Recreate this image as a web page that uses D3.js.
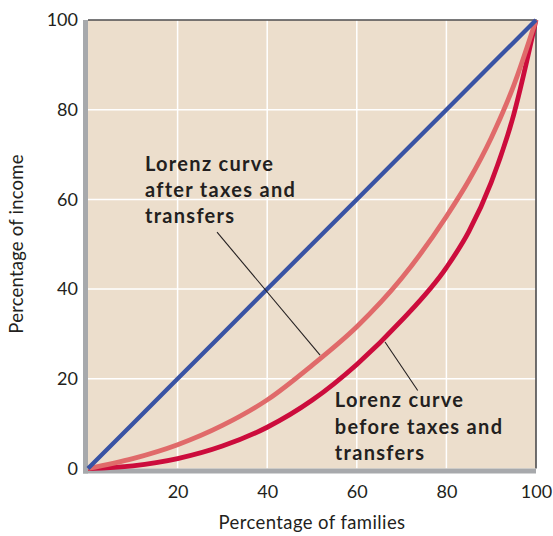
<!DOCTYPE html>
<html>
<head>
<meta charset="utf-8">
<script src="https://cdn.jsdelivr.net/npm/d3@7"></script>
<style>
  html, body { margin: 0; padding: 0; background: #ffffff; }
  svg { display: block; }
</style>
</head>
<body>
<svg id="chart" width="553" height="536"></svg>
<script>
// ---- data ----
const families = [0, 10, 20, 30, 40, 50, 60, 70, 80, 85, 90, 95, 100];
const equality = [0, 10, 20, 30, 40, 50, 60, 70, 80, 85, 90, 95, 100];
const afterTaxes = [0, 2.2, 5.3, 9.6, 15.3, 23.0, 31.6, 42.4, 56.2, 64.2, 73.7, 85.3, 100];
const beforeTaxes = [0, 0.6, 2.2, 5.0, 9.2, 15.2, 23.2, 33.0, 44.8, 52.8, 63.8, 78.8, 100];
const xTicks = [20, 40, 60, 80, 100];
const yTicks = [0, 20, 40, 60, 80, 100];
const gridValues = [20, 40, 60, 80];
const xTitle = "Percentage of families";
const yTitle = "Percentage of income";
const afterLabel = ["Lorenz curve", "after taxes and", "transfers"];
const beforeLabel = ["Lorenz curve", "before taxes and", "transfers"];
// annotation anchors in data units
const afterText = { x: 12.7, y: [66.4, 60.5, 54.7] };
const beforeText = { x: 55.1, y: [13.8, 7.8, 1.9] };
const afterPointer = [[28.8, 52.7], [51.8, 25.3]];
const beforePointer = [[66.3, 28.2], [73.6, 17.4]];

// ---- layout ----
const svg = d3.select("#chart");
const x = d3.scaleLinear().domain([0, 100]).range([88, 536]);
const y = d3.scaleLinear().domain([0, 100]).range([468.5, 20]);

const font = "Lato, 'Open Sans', sans-serif";
const ink = "#231f20";

// background
svg.append("rect")
  .attr("x", x(0)).attr("y", y(100))
  .attr("width", x(100) - x(0)).attr("height", y(0) - y(100))
  .attr("fill", "#ecdecc");

// grid
const grid = svg.append("g").attr("stroke", "#ffffff").attr("stroke-width", 1.5);
grid.selectAll("line.v").data(gridValues).join("line").attr("class", "v")
  .attr("x1", d => x(d)).attr("x2", d => x(d))
  .attr("y1", y(100)).attr("y2", y(0));
grid.selectAll("line.h").data(gridValues).join("line").attr("class", "h")
  .attr("y1", d => y(d)).attr("y2", d => y(d))
  .attr("x1", x(0)).attr("x2", x(100));

// top and right frame
svg.append("path")
  .attr("d", `M${x(0)},${y(100)}H${x(100)}V${y(0)}`)
  .attr("fill", "none").attr("stroke", "#4d4d4f").attr("stroke-width", 1.6);

// gray axis bars
svg.append("rect").attr("x", x(0) - 5).attr("y", y(100))
  .attr("width", 5).attr("height", y(0) - y(100) + 5).attr("fill", "#a7a9ac");
svg.append("rect").attr("x", x(0) - 5).attr("y", y(0))
  .attr("width", x(100) - x(0) + 5).attr("height", 5).attr("fill", "#a7a9ac");

// curves
const line = d3.line().x(d => x(d[0])).y(d => y(d[1])).curve(d3.curveMonotoneX);
const plot = svg.append("g").attr("fill", "none").attr("stroke-linecap", "butt");
plot.append("path").datum(families.map((f, i) => [f, beforeTaxes[i]]))
  .attr("d", line).attr("stroke", "#cc0c3c").attr("stroke-width", 4.8);
plot.append("path").datum(families.map((f, i) => [f, afterTaxes[i]]))
  .attr("d", line).attr("stroke", "#e06a6a").attr("stroke-width", 4.8);
plot.append("path").datum(families.map((f, i) => [f, equality[i]]))
  .attr("d", d3.line().x(d => x(d[0])).y(d => y(d[1])))
  .attr("stroke", "#3953a4").attr("stroke-width", 4.3);

// axes
const yAxis = svg.append("g").attr("transform", `translate(${x(0)},0)`)
  .call(d3.axisLeft(y).tickValues(yTicks).tickSize(0).tickPadding(10).tickFormat(d3.format("d")));
yAxis.select(".domain").remove();
yAxis.selectAll("text").attr("font-family", font).attr("font-size", 18).attr("fill", ink);

const xAxis = svg.append("g").attr("transform", `translate(0,${y(0)})`)
  .call(d3.axisBottom(x).tickValues(xTicks).tickSize(0).tickFormat(d3.format("d")));
xAxis.select(".domain").remove();
xAxis.selectAll("text").attr("font-family", font).attr("font-size", 18).attr("fill", ink)
  .attr("dy", 0).attr("y", 29.5);

// axis titles
svg.append("text").attr("x", 312).attr("y", 529)
  .attr("text-anchor", "middle").attr("font-family", font).attr("font-size", 18.5)
  .attr("letter-spacing", 0.4).attr("fill", ink).text(xTitle);
svg.append("text").attr("transform", `translate(23,244) rotate(-90)`)
  .attr("text-anchor", "middle").attr("font-family", font).attr("font-size", 18.5)
  .attr("letter-spacing", 0.2).attr("fill", ink).text(yTitle);

// annotations
function annotate(lines, pos) {
  svg.append("g").selectAll("text").data(lines).join("text")
    .attr("x", x(pos.x)).attr("y", (d, i) => y(pos.y[i]))
    .attr("font-family", font).attr("font-weight", "bold").attr("font-size", 20)
    .attr("letter-spacing", 1.3).attr("fill", ink).text(d => d);
}
annotate(afterLabel, afterText);
annotate(beforeLabel, beforeText);
[afterPointer, beforePointer].forEach(p => {
  svg.append("line")
    .attr("x1", x(p[0][0])).attr("y1", y(p[0][1]))
    .attr("x2", x(p[1][0])).attr("y2", y(p[1][1]))
    .attr("stroke", ink).attr("stroke-width", 1.1);
});
</script>
</body>
</html>
